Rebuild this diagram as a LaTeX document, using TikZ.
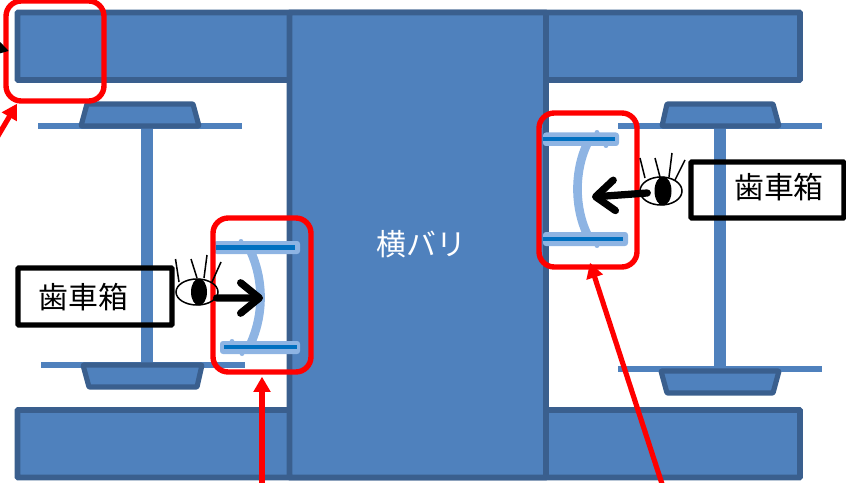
\documentclass[tikz,border=0pt]{standalone}
\usepackage{fontspec}
\newfontfamily\jpfont{Noto Sans CJK JP}
\usetikzlibrary{positioning,arrows.meta,shapes.geometric}
\definecolor{beamfill}{HTML}{4F81BD}
\definecolor{beamedge}{HTML}{3A5F8E}
\definecolor{padlight}{HTML}{8EB4E3}
\definecolor{paddark}{HTML}{0070C0}
\newcommand{\pxl}{0.03cm}
\tikzset{
  beam/.style={draw=beamedge, fill=beamfill, line width=5pt, rounded corners=0.6pt},
  bolster/.style={beam, line width=4.4pt, line join=round},
  axle/.style={draw=beamfill, line width=10.4pt},
  plate/.style={draw=beamfill, line width=5.2pt},
  padlightbar/.style={fill=padlight, rounded corners=2.5pt},
  padlump/.style={fill=padlight},
  paddarkbar/.style={draw=paddark, line width=3.6pt},
  padarc/.style={draw=padlight, line width=7.4pt},
  redframe/.style={draw=red, line width=4.6pt, rounded corners=13pt, inner sep=0pt},
  boxlabel/.style={draw=black, line width=4.4pt, rounded corners=0.6pt, inner sep=0pt},
  gearfont/.style={font=\jpfont\fontsize{25.5}{25.5}\selectfont},
  eye/.style={ellipse, draw=black, line width=1.3pt, inner sep=0pt},
  pupil/.style={ellipse, fill=black, inner sep=0pt},
  lash/.style={draw=black, line width=1.3pt},
  gaze/.style={draw=black, line width=6.2pt, line cap=round,
               -{Straight Barb[length=16pt, width=26pt, round]}},
  pointer/.style={draw=red, line width=4.4pt,
                  -{Triangle[length=13pt, width=14pt]}},
}
\begin{document}
\begin{tikzpicture}[x=\pxl, y=-\pxl]
  \useasboundingbox (0,0) rectangle (846,483);

  % beams
  \draw[beam] (17.5,12.5) rectangle (800,80);
  \draw[beam] (17.5,410) rectangle (800,477.5);
  \draw[beam] (289.5,12.5) rectangle (546,477.5);
  \node[text=white, gearfont] (crossbeam) at (421.5,244) {横バリ};

  % left side
  \draw[plate] (38,126) -- (242,126);
  \draw[plate] (41,365) -- (245,365);
  \draw[axle] (147,128) -- (147,363);
  \draw[bolster] (87,104) -- (193,104) -- (199,126) -- (81,126) -- cycle;
  \draw[bolster] (83,365) -- (202,365) -- (197,387) -- (89,387) -- cycle;

  % right side
  \draw[plate] (618,126) -- (822,126);
  \draw[plate] (618,369) -- (822,369);
  \draw[axle] (720,128) -- (720,367);
  \draw[bolster] (667,104) -- (773,104) -- (779,126) -- (662,126) -- cycle;
  \draw[bolster] (661,371) -- (779,371) -- (773,393) -- (667,393) -- cycle;

  % pads
  \draw[padarc] (250,250) .. controls (264,280) and (264,315) .. (250,345);
  \path[padlightbar] (214,241) rectangle (300,254);
  \path[padlightbar] (220,341) rectangle (300,354);
  \path[padlump] (241,241.5) circle (2.5);
  \path[padlump] (232,341.5) circle (2.5);
  \path[padlump] (242,353.5) circle (2.5);
  \draw[paddarkbar] (216,247.5) -- (295,247.5);
  \draw[paddarkbar] (224,347) -- (297,347);

  \draw[padarc] (588,142) .. controls (574,170) and (574,208) .. (588,236);
  \path[padlightbar] (543,132.5) rectangle (619,146);
  \path[padlightbar] (543,232) rectangle (628,246);
  \path[padlump] (597,132.5) circle (2.5);
  \path[padlump] (606,145.5) circle (2.5);
  \path[padlump] (597,245.5) circle (2.5);
  \draw[paddarkbar] (543,139) -- (615,139);
  \draw[paddarkbar] (543,239) -- (623,239);

  % frames
  \node[redframe, minimum width=98*\pxl, minimum height=154*\pxl] (frameL) at (262,295) {};
  \node[redframe, minimum width=98*\pxl, minimum height=154*\pxl] (frameR) at (588,190) {};
  \node[redframe, minimum width=98*\pxl, minimum height=100*\pxl] (frameT) at (55,51) {};

  % labels
  \node[boxlabel, minimum width=154*\pxl, minimum height=57*\pxl] (gearL) at (95,296.5) {};
  \node[gearfont] (gearLtext) at (83.5,297) {歯車箱};
  \node[boxlabel, minimum width=153*\pxl, minimum height=56*\pxl] (gearR) at (767.5,190) {};
  \node[gearfont] (gearRtext) at (779,187.5) {歯車箱};

  % eyes
  \node[eye, minimum width=42*\pxl, minimum height=26*\pxl] (eyeL) at (197,292) {};
  \node[pupil, minimum width=16*\pxl, minimum height=27*\pxl] (pupilL) at (199,292) {};
  \draw[lash] (179,282) -- (175.5,259);
  \draw[lash] (197,278) -- (191,259);
  \draw[lash] (204,278) -- (207,255);
  \draw[lash] (212,282) -- (221,262);

  \node[eye, minimum width=42*\pxl, minimum height=28*\pxl] (eyeR) at (661,191) {};
  \node[pupil, minimum width=17*\pxl, minimum height=29*\pxl] (pupilR) at (663,191) {};
  \draw[lash] (645,178) -- (640,158);
  \draw[lash] (660,177) -- (655,158);
  \draw[lash] (669,177) -- (672,153);
  \draw[lash] (675,180) -- (685,160);

  % arrows
  \coordinate (gazeL) at (263,298);
  \coordinate (gazeR) at (592,197);
  \draw[gaze] (eyeL.-17) -- (gazeL);
  \draw[gaze] ([shift={(8,2)}]eyeR.west) -- (gazeR);

  \coordinate (feedL) at (262,490);
  \coordinate (feedR) at (664,490);
  \coordinate (feedT) at (-8,146);
  \coordinate (feedB) at (-20,43);
  \draw[pointer] (feedL) -- ([yshift=-2*\pxl]frameL.south);
  \draw[pointer] (feedR) -- ([shift={(2,-7)}]frameR.south);
  \draw[pointer] (feedT) -- ([xshift=-38*\pxl]frameT.south);
  \draw[draw=black, line width=3pt, -{Triangle[length=9pt, width=10pt]}] (feedB) -- ([xshift=5.5*\pxl]frameT.west);
\end{tikzpicture}
\end{document}
